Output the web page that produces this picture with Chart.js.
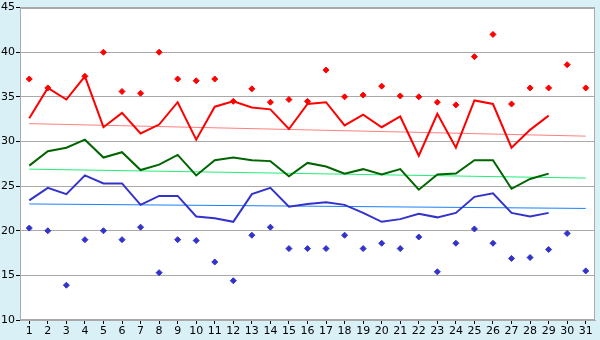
<!DOCTYPE html>
<html>
<head>
<meta charset="utf-8">
<script src="https://cdn.jsdelivr.net/npm/chart.js@4/dist/chart.umd.min.js"></script>
<style>
html,body{margin:0;padding:0;background:#d9f0f6;}
#wrap{width:600px;height:340px;position:relative;}
</style>
</head>
<body>
<div id="wrap"><canvas id="c" width="600" height="340"></canvas></div>
<script>
const days = ['1','2','3','4','5','6','7','8','9','10','11','12','13','14','15','16','17','18','19','20','21','22','23','24','25','26','27','28','29','30','31'];
const yTicks = [10,15,20,25,30,35,40,45];

const avgMax = [32.6,36.0,34.7,37.3,31.6,33.2,30.9,31.9,34.4,30.2,33.9,34.5,33.8,33.6,31.4,34.2,34.4,31.8,33.0,31.6,32.8,28.4,33.1,29.3,34.6,34.2,29.3,31.3,32.9,null,null];
const avgMean = [27.3,28.9,29.3,30.2,28.2,28.8,26.8,27.4,28.5,26.2,27.9,28.2,27.9,27.8,26.1,27.6,27.2,26.4,26.9,26.3,26.9,24.6,26.3,26.4,27.9,27.9,24.7,25.8,26.4,null,null];
const avgMin = [23.4,24.8,24.1,26.2,25.3,25.3,22.9,23.9,23.9,21.6,21.4,21.0,24.1,24.8,22.7,23.0,23.2,22.9,22.0,21.0,21.3,21.9,21.5,22.0,23.8,24.2,22.0,21.6,22.0,null,null];
const recMax = [37.0,36.0,null,37.3,40.0,35.6,35.4,40.0,37.0,36.8,37.0,34.5,35.9,34.4,34.7,34.5,38.0,35.0,35.2,36.2,35.1,35.0,34.4,34.1,39.5,42.0,34.2,36.0,36.0,38.6,36.0];
const recMin = [20.3,20.0,13.9,19.0,20.0,19.0,20.4,15.3,19.0,18.9,16.5,14.4,19.5,20.4,18.0,18.0,18.0,19.5,18.0,18.6,18.0,19.3,15.4,18.6,20.2,18.6,16.9,17.0,17.9,19.7,15.5];
const trendMax = [32.0,null,null,null,null,null,null,null,null,null,null,null,null,null,null,null,null,null,null,null,null,null,null,null,null,null,null,null,null,null,30.6];
const trendMean = [26.9,null,null,null,null,null,null,null,null,null,null,null,null,null,null,null,null,null,null,null,null,null,null,null,null,null,null,null,null,null,25.9];
const trendMin = [23.0,null,null,null,null,null,null,null,null,null,null,null,null,null,null,null,null,null,null,null,null,null,null,null,null,null,null,null,null,null,22.5];

const areaPlugin = {
  id: 'area',
  beforeDraw(chart) {
    const {ctx, chartArea: a} = chart;
    ctx.save();
    ctx.fillStyle = '#ffffff';
    ctx.fillRect(a.left, a.top, a.right - a.left, a.bottom - a.top);
    ctx.restore();
  },
  afterDraw(chart) {
    const {ctx, chartArea: a} = chart;
    ctx.save();
    ctx.strokeStyle = '#aaaaaa';
    ctx.lineWidth = 1;
    ctx.strokeRect(Math.round(a.left) + 0.5, Math.round(a.top) + 0.5, Math.round(a.right - a.left) - 1, Math.round(a.bottom - a.top) - 1);
    ctx.restore();
  }
};

const lineDs = (data, color, w, order) => ({
  type: 'line', data, borderColor: color, backgroundColor: color, borderWidth: w,
  pointRadius: 0, tension: 0, spanGaps: true, fill: false, order
});
const dotDs = (data, color) => ({
  type: 'line', data, showLine: false, borderColor: color, backgroundColor: color,
  pointStyle: 'rectRot', pointRadius: 3, pointBorderWidth: 1, order: 0
});

new Chart(document.getElementById('c'), {
  type: 'line',
  data: {
    labels: days,
    datasets: [
      lineDs(trendMax, '#ff8080', 1, 3),
      lineDs(trendMean, '#22ee77', 1, 3),
      lineDs(trendMin, '#1a7fff', 1, 3),
      lineDs(avgMax, '#ff0000', 2, 1),
      lineDs(avgMean, '#006400', 2, 1),
      lineDs(avgMin, '#3333cc', 2, 1),
      dotDs(recMax, '#ff0000'),
      dotDs(recMin, '#3333cc')
    ]
  },
  options: {
    responsive: false,
    animation: false,
    layout: { padding: { top: 5, right: 5, left: 0, bottom: 0 } },
    plugins: { legend: { display: false }, tooltip: { enabled: false } },
    scales: {
      x: {
        offset: true,
        grid: { offset: false, drawOnChartArea: false, drawTicks: true, tickLength: 4, color: '#000000' },
        border: { display: true, color: '#aaaaaa' },
        ticks: { color: '#000000', font: { family: 'DejaVu Sans', size: 11 }, padding: 1, maxRotation: 0, autoSkip: false },
        afterFit(s) { s.height = 20; }
      },
      y: {
        min: 10, max: 45,
        afterBuildTicks(s) { s.ticks = yTicks.map(v => ({ value: v })); },
        grid: { color: '#aaaaaa', tickLength: 4, tickColor: '#000000' },
        border: { display: true, color: '#aaaaaa' },
        ticks: { color: '#000000', font: { family: 'DejaVu Sans', size: 11 }, padding: 1 },
        afterFit(s) { s.width = 20; }
      }
    }
  },
  plugins: [areaPlugin]
});
</script>
</body>
</html>
